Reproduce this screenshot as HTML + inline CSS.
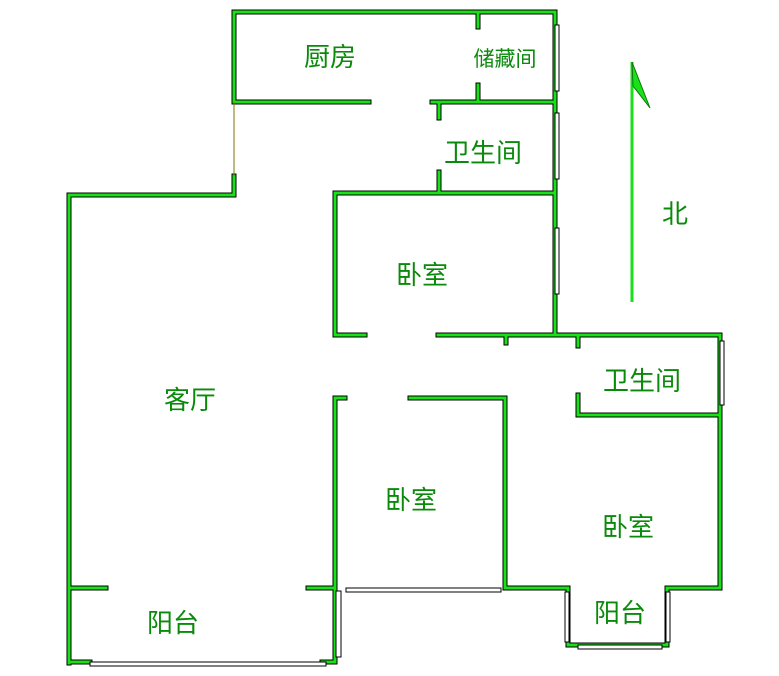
<!DOCTYPE html>
<html><head><meta charset="utf-8"><style>
body{margin:0;background:#fff;width:779px;height:676px;overflow:hidden}
svg{display:block}
text{font-family:"Liberation Sans","Noto Sans CJK SC",sans-serif;fill:#0a8a0a;text-anchor:middle}
.b{stroke:#000;stroke-width:5;fill:none;stroke-linecap:square}
.g{stroke:#19e019;stroke-width:3;fill:none;stroke-linecap:square}
.w{stroke:#000;stroke-width:1;fill:#fff}
</style></head><body>
<svg width="779" height="676" viewBox="0 0 779 676">
<defs>
<g id="walls">
<path d="M234 102V12H555V335"/>
<path d="M234 176V195H69V663"/>
<path d="M234 102H369M432 102H555"/>
<path d="M478 12V27M478 85V102"/>
<path d="M439 102V118M439 172V193"/>
<path d="M335 335V193H554"/>
<path d="M335 335H365M438 335H720V588H667V645H568V588H505"/>
<path d="M506 335V343M578 335V346"/>
<path d="M578 395V415H720"/>
<path d="M69 588H106"/>
<path d="M345 398H335V588H308"/>
<path d="M410 398H505V588"/>
<path d="M335 588V662H322"/>
<path d="M69 662H90"/>
</g>
</defs>
<use href="#walls" class="b"/>
<use href="#walls" class="g"/>
<line x1="234" y1="102" x2="234" y2="176" stroke="#7a7a00" stroke-width="1"/>
<rect class="w" x="555" y="25" width="4" height="66"/>
<rect class="w" x="555" y="113" width="4" height="66"/>
<rect class="w" x="555" y="228" width="4" height="66"/>
<rect class="w" x="720" y="341" width="4" height="64"/>
<rect class="w" x="346" y="588" width="155" height="4"/>
<rect class="w" x="336" y="591" width="5" height="66"/>
<rect class="w" x="90" y="662" width="236" height="4"/>
<rect class="w" x="565" y="592" width="4" height="50"/>
<rect class="w" x="666" y="592" width="4" height="50"/>
<rect class="w" x="578" y="645" width="84" height="4"/>
<line x1="632" y1="62" x2="632" y2="302" stroke="#19e019" stroke-width="3"/>
<path d="M632 62L650 108L633 86Z" fill="#19e019" stroke="#0a7a0a" stroke-width="1"/>
<text x="675" y="223" font-size="26">北</text>
<text x="330" y="66" font-size="26">厨房</text>
<text x="505" y="66" font-size="21">储藏间</text>
<text x="483" y="162" font-size="26">卫生间</text>
<text x="422" y="284" font-size="26">卧室</text>
<text x="190" y="409" font-size="26">客厅</text>
<text x="411" y="509" font-size="26">卧室</text>
<text x="642" y="390" font-size="26">卫生间</text>
<text x="628" y="536" font-size="26">卧室</text>
<text x="173" y="632" font-size="26">阳台</text>
<text x="620" y="622" font-size="26">阳台</text>
</svg>
</body></html>
